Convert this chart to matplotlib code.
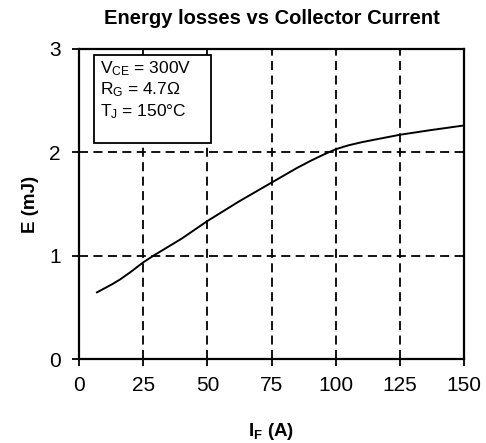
import matplotlib.pyplot as plt
from matplotlib.patches import Rectangle

plt.rcParams['font.family'] = ['Liberation Sans', 'DejaVu Sans']
plt.rcParams['mathtext.fontset'] = 'custom'
plt.rcParams['mathtext.rm'] = 'Liberation Sans'
plt.rcParams['mathtext.it'] = 'Liberation Sans'
plt.rcParams['mathtext.bf'] = 'Liberation Sans:bold'

# curve
current = [7, 10, 13, 16, 20, 25, 29, 35, 40, 50, 62, 75, 85, 90, 95, 100, 105, 110, 115,
           125, 137, 150]
energy = [0.645, 0.685, 0.725, 0.77, 0.84, 0.935, 1.0, 1.09, 1.165, 1.335, 1.52, 1.707,
          1.85, 1.915, 1.975, 2.03, 2.068, 2.097, 2.122, 2.17, 2.215, 2.26]

xticks = [0, 25, 50, 75, 100, 125, 150]
yticks = [0, 1, 2, 3]

fig = plt.figure(figsize=(4.86, 4.43), dpi=100)
ax = fig.add_axes([0.1626, 0.1896, 0.7922, 0.6998])

ax.plot(current, energy, color='black', lw=1.4, zorder=3)

ax.set_xlim(0, 150)
ax.set_ylim(0, 3)
ax.set_xticks(xticks)
ax.set_yticks(yticks)
ax.grid(True, color='black', linestyle=(0, (5, 3)), lw=1.3)
ax.tick_params(direction='out', length=5, width=1.3, labelsize=15, colors='black')
ax.tick_params(axis='x', pad=7)
ax.tick_params(axis='y', pad=8)
for s in ax.spines.values():
    s.set_linewidth(1.6)

ax.set_title('Energy losses vs Collector Current', fontsize=14.5, fontweight='bold', pad=18)
ax.set_xlabel(r'I$_\mathbf{F}$ (A)', fontsize=13.5, fontweight='bold', labelpad=19)
ax.set_ylabel('E (mJ)', fontsize=13.5, fontweight='bold', labelpad=7)

# condition box
box = Rectangle((0.039, 0.698), 0.305, 0.284, transform=ax.transAxes,
                facecolor='white', edgecolor='black', lw=1.3, zorder=4)
ax.add_patch(box)
cond = '$V_{CE}$ = 300V\n$R_G$ = 4.7Ω\n$T_J$ = 150°C'
ax.text(0.054, 0.968, cond, transform=ax.transAxes, fontsize=12.5, va='top',
        linespacing=1.2, zorder=5)

fig.savefig('out.png', dpi=100)
